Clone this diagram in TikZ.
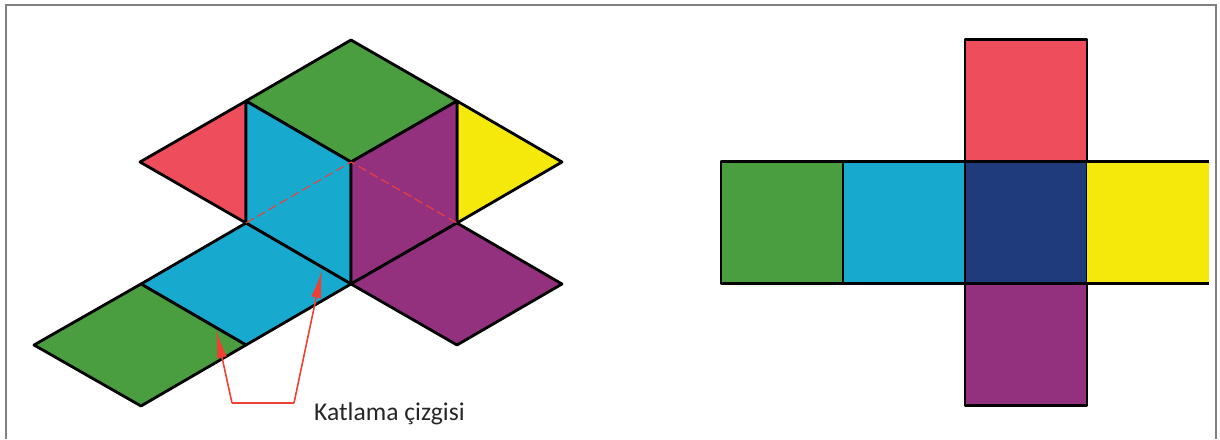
\documentclass[tikz,border=0pt]{standalone}
\usepackage{fontspec}
\setmainfont{Carlito}
\usetikzlibrary{arrows.meta, positioning}
\definecolor{facegreen}{HTML}{4A9E3F}
\definecolor{faceblue}{HTML}{18A9CF}
\definecolor{facered}{HTML}{EE4E5B}
\definecolor{faceyellow}{HTML}{F4E90A}
\definecolor{facepurple}{HTML}{93317F}
\definecolor{facenavy}{HTML}{1F3B7C}
\definecolor{foldred}{HTML}{EE4035}
\definecolor{framegray}{HTML}{808080}
\begin{document}
\begin{tikzpicture}[
		x=1pt, y=-1pt,
		face/.style={draw=black, line width=2.8pt, line join=round},
		netface/.style={face, minimum size=122pt, inner sep=0pt, outer sep=0pt},
		foldline/.style={foldred, line width=1.6pt, line join=miter},
		foldarrow/.style={foldline, -{Latex[length=28pt, width=10pt]}},
		hiddenline/.style={foldred, line width=1.1pt, dash pattern=on 9pt off 4pt}
	]
	\useasboundingbox (0,0) rectangle (1220,439);
	\draw[framegray, line width=1.3pt] (6,439) -- (6,5) -- (1216,5) -- (1216,439);
	% folded solid
	\coordinate (top) at (351,40);
	\coordinate (upleft) at (246,101);
	\coordinate (upright) at (457,101);
	\coordinate (mid) at (351,162);
	\coordinate (farleft) at (140,162);
	\coordinate (farright) at (562,162);
	\coordinate (lowleft) at (246,223);
	\coordinate (lowright) at (457,223);
	\coordinate (low) at (351,284);
	\coordinate (stepleft) at (141,284);
	\coordinate (stepright) at (562,284);
	\coordinate (stepmid) at (246,345);
	\coordinate (purplelow) at (457,345);
	\coordinate (tailleft) at (34,345);
	\coordinate (tailbottom) at (141,406);
	\draw[face, fill=facegreen] (top) -- (upright) -- (mid) -- (upleft) -- cycle;
	\draw[face, fill=facered] (upleft) -- (lowleft) -- (farleft) -- cycle;
	\draw[face, fill=faceyellow] (upright) -- (farright) -- (lowright) -- cycle;
	\draw[face, fill=faceblue] (upleft) -- (mid) -- (low) -- (lowleft) -- cycle;
	\draw[face, fill=facepurple] (mid) -- (upright) -- (lowright) -- (low) -- cycle;
	\draw[face, fill=faceblue] (lowleft) -- (low) -- (stepmid) -- (stepleft) -- cycle;
	\draw[face, fill=facepurple] (lowright) -- (stepright) -- (purplelow) -- (low) -- cycle;
	\draw[face, fill=facegreen] (stepleft) -- (stepmid) -- (tailbottom) -- (tailleft) -- cycle;
	\draw[hiddenline] (lowleft) -- (mid) -- (lowright);
	% fold labels
	\node[font=\fontsize{25.6}{28}\selectfont, text=black!85, anchor=west, inner sep=0pt] (foldlabel) at (314,414) {Katlama çizgisi};
	\coordinate (bendleft) at (232,403);
	\coordinate (bendright) at (294,403);
	\coordinate (tipleft) at (216,330);
	\coordinate (tipright) at (322,270);
	\draw[foldline] (bendleft) -- (bendright);
	\draw[foldarrow] (bendleft) -- (tipleft);
	\draw[foldarrow] (bendright) -- (tipright);
	% flat net
	\node[netface, fill=facenavy] (netmid) at (1026,222.5) {};
	\node[netface, fill=faceblue, left=0pt of netmid] (netblue) {};
	\node[netface, fill=facegreen, left=0pt of netblue] (netgreen) {};
	\node[netface, fill=facered, above=0pt of netmid] (netred) {};
	\node[netface, fill=facepurple, below=0pt of netmid] (netpurple) {};
	\node[minimum size=122pt, inner sep=0pt, outer sep=0pt, fill=faceyellow, right=0pt of netmid] (netyellow) {};
	\draw[face] (netyellow.north west) -- (netyellow.north east);
	\draw[face] (netyellow.south west) -- (netyellow.south east);
\end{tikzpicture}
\end{document}
